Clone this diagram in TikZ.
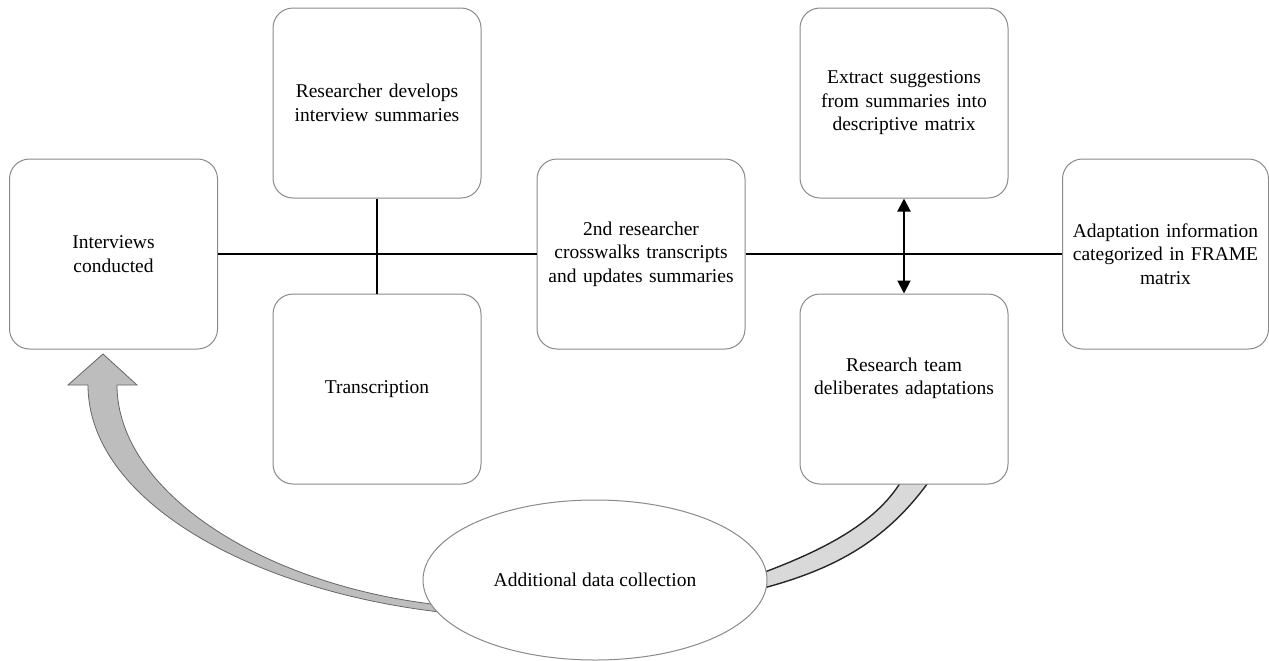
\documentclass[tikz,border=0pt]{standalone}
\usepackage{fontspec}
\setmainfont{Liberation Serif}
\usetikzlibrary{arrows.meta,shapes.geometric}

\definecolor{boxline}{HTML}{8A8A8A}
\definecolor{loopfill}{HTML}{BDBDBD}
\definecolor{bandfill}{HTML}{D9D9D9}

\begin{document}
\begin{tikzpicture}[%
  x=0.5pt, y=-0.5pt, % one unit = one pixel of the layout, y going down
  every node/.style={font=\fontsize{9.75}{11.75}\selectfont, text=black},
  stepbox/.style={rectangle, rounded corners=10pt, draw=boxline, line width=0.5pt, fill=white,
    minimum width=104pt, minimum height=95pt, inner sep=2pt, align=center, text width=98pt},
  link/.style={draw=black, line width=1pt},
  both/.style={link, {Triangle[length=6.5pt,width=6.5pt]}-{Triangle[length=6.5pt,width=6.5pt]}}
]
\useasboundingbox (0,0) rectangle (1269,660);

% Curved feedback shapes (behind the boxes)
\filldraw[fill=loopfill, draw=black!60, line width=0.4pt]
  (440,612) .. controls (250,590) and (88,500) .. (88,385)
  -- (68,385) -- (103,354) -- (137,385) -- (117,385)
  .. controls (117,490) and (260,585) .. (440,605) -- cycle;
\filldraw[fill=bandfill, draw=black!85, line width=0.7pt]
  (930,480) .. controls (880,550) and (820,575) .. (740,594)
  -- (740,581) .. controls (820,553) and (875,525) .. (902,480) -- cycle;

% Process steps
\node[stepbox] (interviews) at (113.5,254) {Interviews\\conducted};
\node[stepbox] (summaries) at (377,103) {Researcher develops\\interview summaries};
\node[stepbox] (transcription) at (377,389) {Transcription};
\node[stepbox] (crosswalk) at (641,254) {2nd researcher\\crosswalks transcripts\\and updates summaries};
\node[stepbox] (extract) at (904,103) {Extract suggestions\\from summaries into\\descriptive matrix};
\node[stepbox] (team) at (904,389) {Research team\\deliberates adaptations\\[1pt]\mbox{}};
\node[stepbox, minimum width=103pt] (frame) at (1165.5,254) {Adaptation information\\categorized in FRAME\\matrix};

% Extra round
\node[ellipse, draw=boxline, line width=0.5pt, fill=white, minimum width=172pt, minimum height=80pt]
  (extra) at (595,580) {Additional data collection};

% Connectors
\draw[link] (interviews.east) -- (crosswalk.west);
\draw[link] (crosswalk.east) -- (frame.west);
\draw[link] (summaries.south) -- (transcription.north);
\draw[both] (extract.south) -- (team.north);

\end{tikzpicture}
\end{document}
